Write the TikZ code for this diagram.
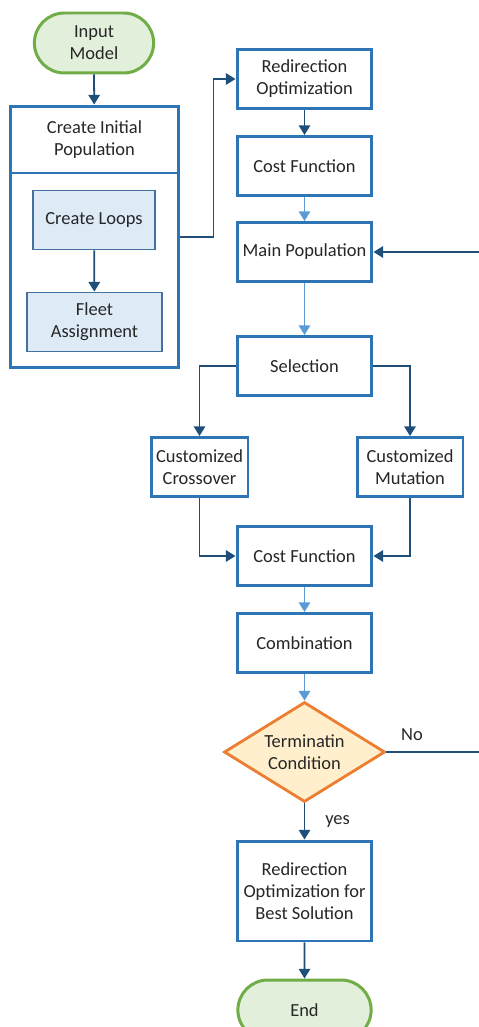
\documentclass[tikz,border=0pt]{standalone}
\usepackage{fontspec}
\setmainfont{Carlito}
\usetikzlibrary{arrows.meta,shapes.geometric,shapes.misc}

\definecolor{boxblue}{HTML}{2E75B6}
\definecolor{loopblue}{HTML}{41719C}
\definecolor{loopfill}{HTML}{DEEBF7}
\definecolor{darkarrow}{HTML}{1F4E79}
\definecolor{lightarrow}{HTML}{5B9BD5}
\definecolor{termgreen}{HTML}{70AD47}
\definecolor{termfill}{HTML}{E2EFDA}
\definecolor{condorange}{HTML}{ED7D31}
\definecolor{condfill}{HTML}{FFEFCC}
\definecolor{txt}{HTML}{262626}

\tikzset{
  every node/.style={font=\fontsize{10.5}{12.5}\selectfont, text=txt, align=center},
  procbox/.style={draw=boxblue, line width=1.7pt, fill=white, minimum width=2.7cm, minimum height=1.18cm, inner sep=1pt},
  loopbox/.style={draw=loopblue, line width=1pt, fill=loopfill, minimum height=1.18cm},
  terminal/.style={rounded rectangle, draw=termgreen, line width=1.7pt, fill=termfill, minimum height=1.2cm},
  condbox/.style={diamond, draw=condorange, line width=1.6pt, fill=condfill, shape aspect=1.61, inner xsep=-4pt, inner ysep=-3pt, minimum width=3.22cm, minimum height=2cm},
  darrow/.style={draw=darkarrow, line width=1pt, -{Triangle[length=5.5pt,width=6.5pt]}},
  larrow/.style={draw=lightarrow, line width=1pt, -{Triangle[length=5.5pt,width=6.5pt]}}
}

\begin{document}
\begin{tikzpicture}[x=0.02cm, y=-0.02cm]
  \useasboundingbox (0,0) rectangle (479,1027);

  % left column
  \node[terminal, minimum width=2.62cm] (input) at (94,43) {Input\\Model};
  \node[draw=boxblue, line width=1.7pt, minimum width=3.38cm, minimum height=5.24cm] (init) at (94.5,237) {};
  \node (inittitle) at (94.5,140) {Create Initial\\Population};
  \coordinate (sepL) at (10,173);
  \coordinate (sepR) at (179,173);
  \draw[boxblue, line width=1.7pt] (sepL) -- (sepR);
  \node[loopbox, minimum width=2.44cm] (loops) at (94,220) {Create Loops};
  \node[loopbox, minimum width=2.7cm] (fleet) at (94.5,322) {Fleet\\Assignment};

  % main column
  \node[procbox] (redir) at (304.5,79) {Redirection\\Optimization};
  \node[procbox] (cost1) at (304.5,166) {Cost Function};
  \node[procbox] (mainpop) at (304.5,252) {Main Population};
  \node[procbox] (sel) at (304.5,366) {Selection};
  \node[procbox, minimum width=1.94cm] (cross) at (199.5,467) {Customized\\Crossover};
  \node[procbox, minimum width=2.12cm] (mut) at (410,467) {Customized\\Mutation};
  \node[procbox] (cost2) at (304.5,556) {Cost Function};
  \node[procbox] (comb) at (304.5,643) {Combination};
  \node[condbox] (term) at (304.5,752) {Terminatin\\Condition};
  \node[procbox, minimum height=2cm] (best) at (304.5,891) {Redirection\\Optimization for\\Best Solution};
  \node[terminal, minimum width=2.9cm] (finish) at (304.5,1010) {End};

  % connectors
  \draw[darrow] (input) -- (init);
  \draw[darrow] (loops) -- (fleet);
  \draw[darrow] (init.east) -- ++(33,0) |- (redir.west);
  \draw[darrow] (redir) -- (cost1);
  \draw[larrow] (cost1) -- (mainpop);
  \draw[larrow] (mainpop) -- (sel);
  \draw[darrow] (sel.west) -| (cross.north);
  \draw[darrow] (sel.east) -| (mut.north);
  \draw[darrow] (cross.south) |- (cost2.west);
  \draw[darrow] (mut.south) |- (cost2.east);
  \draw[larrow] (cost2) -- (comb);
  \draw[larrow] (comb) -- (term);
  \draw[darrow] (term) -- (best) node[pos=0.5, right=8pt] (yes) {yes};
  \draw[darrow] (best) -- (finish);
  \draw[darrow] (term.east) -- ++(120,0) |- (mainpop.east);
  \node (no) at (412,735) {No};
\end{tikzpicture}
\end{document}
